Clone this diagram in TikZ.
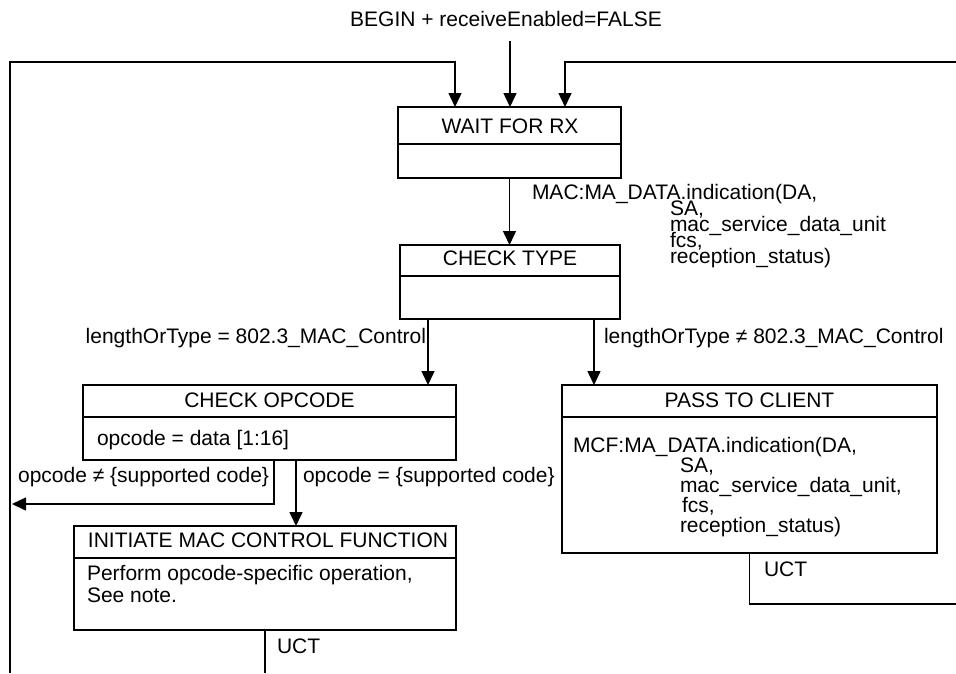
\documentclass[tikz,border=0pt]{standalone}
\usepackage{fontspec}
\setmainfont{Liberation Sans}
\usetikzlibrary{arrows.meta}
\newcommand{\tightlns}{\lineskiplimit=-100pt\relax}
\begin{document}
\begin{tikzpicture}[x=1pt,y=-1pt,line width=1.5pt,
  every node/.style={inner sep=0pt,outer sep=0pt},
  stbox/.style={draw,line width=1.5pt},
  txt/.style={font=\fontsize{21}{24}\selectfont},
  multi/.style={align=left,anchor=north west,font={\fontsize{21}{#1}\selectfont\tightlns}},
  arr/.style={-{Triangle[width=13pt,length=14pt]},line width=1.5pt}]
\fill[white] (0,0) rectangle (956,673);
\useasboundingbox (0,0) rectangle (956,673);

% state boxes
\node[stbox,minimum width=223pt,minimum height=71pt] (wait) at (509.5,142.5) {};
\node[stbox,minimum width=220pt,minimum height=74pt] (ctype) at (510,282) {};
\node[stbox,minimum width=373pt,minimum height=75pt] (copc) at (269.5,422.5) {};
\node[stbox,minimum width=375pt,minimum height=168pt] (pass) at (749.5,469) {};
\node[stbox,minimum width=382pt,minimum height=104pt] (init) at (265,578) {};

% dividers
\draw ([yshift=-37pt]wait.north west) -- ([yshift=-37pt]wait.north east);
\draw ([yshift=-31pt]ctype.north west) -- ([yshift=-31pt]ctype.north east);
\draw ([yshift=-32pt]copc.north west) -- ([yshift=-32pt]copc.north east);
\draw ([yshift=-32pt]pass.north west) -- ([yshift=-32pt]pass.north east);
\draw ([yshift=-32pt]init.north west) -- ([yshift=-32pt]init.north east);

% titles
\node[txt,anchor=base] (twait) at (510,133) {WAIT FOR RX};
\node[txt,anchor=base] (tctype) at (510,265) {CHECK TYPE};
\node[txt,anchor=base] (tcopc) at (269.5,407) {CHECK OPCODE};
\node[txt,anchor=base] (tpass) at (749.5,407) {PASS TO CLIENT};
\node[txt,anchor=base] (tinit) at (268,547) {INITIATE MAC CONTROL FUNCTION};

% box contents
\node[txt,anchor=base west] (bcopc) at (97,445) {opcode = data [1:16]};
\node[multi=20] (bpass) at (573,437.7) {MCF:MA\_DATA.indication(DA,\\
  \hspace*{107pt}SA,\\
  \hspace*{107pt}mac\_service\_data\_unit,\\
  \hspace*{109pt}fcs,\\
  \hspace*{107pt}reception\_status)};
\node[multi=22] (binit) at (87,565.7) {Perform opcode-specific operation,\\See note.};

% transition labels
\node[txt,anchor=base] (begin) at (506,26) {BEGIN + receiveEnabled=FALSE};
\node[multi=16] (mac) at (532,184.7) {MAC:MA\_DATA.indication(DA,\\
  \hspace*{138pt}SA,\\
  \hspace*{138pt}mac\_service\_data\_unit\\
  \hspace*{138pt}fcs,\\
  \hspace*{138pt}reception\_status)};
\node[txt,anchor=base east] (leq) at (426,343) {lengthOrType = 802.3\_MAC\_Control};
\node[txt,anchor=base west] (lne) at (604,343) {lengthOrType ≠ 802.3\_MAC\_Control};
\node[txt,anchor=base east] (one) at (269,482) {opcode ≠ \{supported code\}};
\node[txt,anchor=base west] (oeq) at (303,482) {opcode = \{supported code\}};
\node[txt,anchor=base west] (uct1) at (764,576) {UCT};
\node[txt,anchor=base west] (uct2) at (277,653) {UCT};

% connectors
\coordinate (bs) at (510,41);
\draw[arr] (bs) -- (bs |- wait.north);
\coordinate (lb) at (10,673);
\coordinate (lc) at (455,62);
\draw[arr] (lb) |- (lc) -- (lc |- wait.north);
\coordinate (re) at (956,62);
\coordinate (rc) at (565,62);
\draw[arr] (re) -- (rc) -- (rc |- wait.north);
\draw[arr] (wait.south) -- (wait.south |- ctype.north);
\coordinate (c1) at ([xshift=-82pt]ctype.south);
\coordinate (c2) at ([xshift=84pt]ctype.south);
\draw[arr] (c1) -- (c1 |- copc.north);
\draw[arr] (c2) -- (c2 |- pass.north);
\coordinate (o1) at ([xshift=26.5pt]copc.south);
\coordinate (o2) at ([xshift=4.5pt]copc.south);
\draw[arr] (o1) -- (o1 |- init.north);
\coordinate (ne) at (12,504);
\draw[arr] (o2) |- (ne);
\coordinate (pe) at (956,604);
\draw (pass.south) |- (pe);
\coordinate (ib) at (265,673);
\draw (init.south) -- (ib);
\end{tikzpicture}
\end{document}
